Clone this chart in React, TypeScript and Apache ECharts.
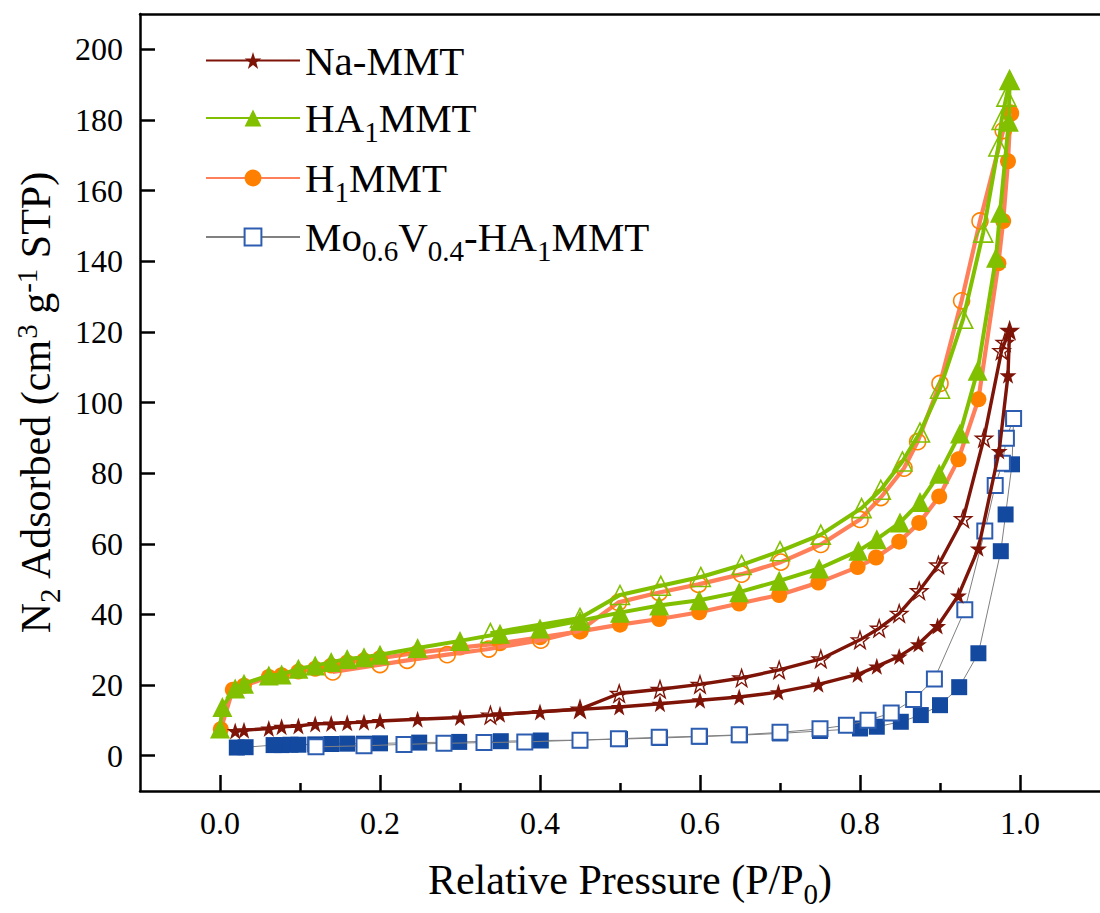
import React, { useEffect, useRef } from "react";
import * as echarts from "echarts";

// ---- axis ticks ----
const xTicks = [0, 0.2, 0.4, 0.6, 0.8, 1.0];
const xMinorTicks = [0.1, 0.3, 0.5, 0.7, 0.9];
const yTicks = [0, 20, 40, 60, 80, 100, 120, 140, 160, 180, 200];

// ---- Na-MMT ----
const naAdsP = [0.019, 0.03, 0.061, 0.077, 0.098, 0.119, 0.139, 0.159, 0.18, 0.2, 0.247, 0.3, 0.35, 0.4, 0.45, 0.499, 0.55, 0.6, 0.649, 0.698, 0.748, 0.797, 0.821, 0.849, 0.873, 0.897, 0.923, 0.948, 0.974, 0.985, 0.987];
const naAdsV = [7.0, 7.2, 7.7, 8.2, 8.4, 9.0, 9.1, 9.3, 9.5, 9.8, 10.3, 10.8, 11.7, 12.4, 13.1, 13.8, 14.7, 15.7, 16.6, 18.0, 20.2, 23.0, 25.3, 28.1, 31.6, 36.7, 45.4, 58.7, 86.3, 107.7, 120.4];
const naDesP = [0.987, 0.981, 0.977, 0.955, 0.929, 0.898, 0.874, 0.849, 0.824, 0.8, 0.751, 0.699, 0.652, 0.6, 0.55, 0.499, 0.45, 0.338];
const naDesV = [120.4, 117.0, 114.7, 89.9, 67.1, 54.0, 46.7, 40.3, 36.1, 32.8, 27.4, 24.3, 22.0, 20.2, 18.8, 17.6, 13.2, 11.5];

// ---- HA1MMT ----
const haAdsP = [0.0, 0.003, 0.019, 0.03, 0.061, 0.077, 0.098, 0.119, 0.139, 0.159, 0.18, 0.2, 0.247, 0.3, 0.35, 0.4, 0.45, 0.5, 0.549, 0.599, 0.649, 0.699, 0.749, 0.798, 0.821, 0.85, 0.875, 0.899, 0.925, 0.947, 0.97, 0.975, 0.986, 0.987];
const haAdsV = [7.7, 13.8, 19.0, 20.4, 22.7, 23.0, 24.6, 25.5, 26.5, 27.4, 27.9, 28.6, 30.5, 32.5, 34.5, 36.0, 38.2, 40.5, 42.5, 44.0, 46.3, 49.5, 53.0, 58.0, 61.3, 66.0, 71.8, 79.8, 91.2, 109.0, 141.0, 153.7, 179.5, 191.3];
const haDesP = [0.987, 0.983, 0.977, 0.973, 0.954, 0.929, 0.9, 0.875, 0.853, 0.826, 0.802, 0.751, 0.7, 0.652, 0.601, 0.551, 0.5, 0.45, 0.338];
const haDesV = [191.3, 186.6, 180.0, 172.5, 148.1, 123.7, 103.9, 91.5, 83.3, 75.3, 70.1, 62.6, 57.9, 54.0, 50.6, 48.1, 45.5, 39.0, 34.7];

// ---- H1MMT ----
const hAdsP = [0.001, 0.016, 0.03, 0.061, 0.077, 0.098, 0.119, 0.139, 0.159, 0.18, 0.2, 0.247, 0.3, 0.35, 0.4, 0.45, 0.5, 0.549, 0.599, 0.649, 0.699, 0.748, 0.797, 0.82, 0.849, 0.874, 0.899, 0.923, 0.948, 0.973, 0.979, 0.985, 0.988];
const hAdsV = [7.5, 18.7, 19.8, 22.3, 22.8, 23.8, 24.6, 25.5, 26.4, 27.0, 27.6, 29.2, 30.6, 31.8, 33.5, 35.2, 37.1, 38.7, 40.6, 43.1, 45.5, 49.0, 53.4, 56.1, 60.6, 65.9, 73.4, 83.9, 100.9, 139.4, 151.4, 168.3, 181.9];
const hDesP = [0.988, 0.979, 0.95, 0.927, 0.9, 0.872, 0.855, 0.826, 0.8, 0.751, 0.701, 0.652, 0.598, 0.549, 0.498, 0.45, 0.401, 0.336, 0.284, 0.234, 0.2, 0.141];
const hDesV = [181.9, 177.0, 151.4, 128.8, 105.4, 88.9, 81.4, 73.1, 66.9, 59.8, 54.8, 51.4, 48.5, 46.2, 43.4, 35.4, 32.7, 30.2, 28.6, 27.0, 25.8, 23.7];

// ---- Mo0.6V0.4-HA1MMT ----
const moAdsP = [0.021, 0.032, 0.067, 0.077, 0.088, 0.098, 0.119, 0.139, 0.159, 0.18, 0.2, 0.249, 0.299, 0.351, 0.401, 0.45, 0.5, 0.55, 0.6, 0.65, 0.7, 0.75, 0.8, 0.821, 0.851, 0.876, 0.9, 0.924, 0.948, 0.976, 0.982, 0.99, 0.992];
const moAdsV = [2.3, 2.4, 3.0, 3.0, 3.1, 3.1, 3.2, 3.3, 3.4, 3.4, 3.5, 3.7, 3.9, 4.1, 4.3, 4.4, 4.7, 5.0, 5.4, 5.8, 6.3, 7.0, 7.7, 8.2, 9.6, 11.5, 14.3, 19.4, 29.0, 57.9, 68.3, 82.5, 95.5];
const moDesP = [0.992, 0.983, 0.978, 0.969, 0.956, 0.931, 0.893, 0.867, 0.839, 0.81, 0.783, 0.75, 0.7, 0.649, 0.599, 0.549, 0.498, 0.45, 0.381, 0.33, 0.28, 0.23, 0.18, 0.12];
const moDesV = [95.5, 89.9, 82.8, 76.5, 63.6, 41.3, 21.7, 15.9, 12.1, 10.0, 8.6, 7.6, 6.6, 5.9, 5.5, 5.2, 4.8, 4.4, 3.9, 3.7, 3.5, 3.2, 2.8, 2.5];

const FONT = "Liberation Serif, Times New Roman, serif";
const STAR = "path://M50,0 L61.8,35.1 L98.1,35.1 L68.8,56.8 L79.4,91.1 L50,70 L20.6,91.1 L31.2,56.8 L1.9,35.1 L38.2,35.1 Z";

const C_NA = "#7D1407";
const C_GREEN = "#80C000";
const C_ORANGE = "#FF8000";
const C_SALMON = "#FF7F5A";
const C_BLUE = "#1449A0";
const C_BLUE_EDGE = "#2C5DB0";
const C_GRAY = "#808080";

const zip = (p: number[], v: number[]) => p.map((x, i) => [x, v[i]]);

const makeRich = (size: number) => ({
  n: { fontFamily: FONT, fontSize: size, lineHeight: size + 4, color: "#000" },
  s: { fontFamily: FONT, fontSize: Math.round(size * 0.7), lineHeight: size + 4, color: "#000", padding: [Math.round(size * 0.65), 0, 0, 0] },
  p: { fontFamily: FONT, fontSize: Math.round(size * 0.7), lineHeight: size + 4, color: "#000", padding: [0, 0, Math.round(size * 0.45), 0] },
});
const legendRich = makeRich(41);
const titleRich = makeRich(42);

const legendLabels: Record<string, string> = {
  "Na-MMT": "{n|Na-MMT}",
  "HA1MMT": "{n|HA}{s|1}{n|MMT}",
  "H1MMT": "{n|H}{s|1}{n|MMT}",
  "Mo0.6V0.4-HA1MMT": "{n|Mo}{s|0.6}{n|V}{s|0.4}{n|-HA}{s|1}{n|MMT}",
};
const legendOrder = ["Na-MMT", "HA1MMT", "H1MMT", "Mo0.6V0.4-HA1MMT"];
const legendTops = [40, 90, 150, 209];

export default function App() {
  const ref = useRef<HTMLDivElement>(null);
  useEffect(() => {
    if (!ref.current) return;
    const chart = echarts.init(ref.current, undefined, { renderer: "svg" });

    const baseLine = (name: string, data: number[][], color: string, width: number, symbol: string, size: number, item: any, z: number) => ({
      name,
      type: "line",
      data,
      symbol,
      symbolSize: size,
      showSymbol: true,
      lineStyle: { color, width },
      itemStyle: item,
      z,
      emphasis: { disabled: true },
    });

    const series = [
      baseLine("Mo0.6V0.4-HA1MMT adsorption", zip(moAdsP, moAdsV), C_GRAY, 1, "rect", 16, { color: C_BLUE }, 2),
      baseLine("Mo0.6V0.4-HA1MMT", zip(moDesP, moDesV), C_GRAY, 1, "rect", 15, { color: "#ffffff", borderColor: C_BLUE_EDGE, borderWidth: 2 }, 3),
      baseLine("H1MMT", zip(hAdsP, hAdsV), C_SALMON, 4.2, "circle", 16, { color: C_ORANGE }, 4),
      baseLine("H1MMT desorption", zip(hDesP, hDesV), C_SALMON, 4.2, "circle", 16, { color: "rgba(255,255,255,0)", borderColor: C_ORANGE, borderWidth: 1.6 }, 5),
      baseLine("Na-MMT", zip(naAdsP, naAdsV), C_NA, 3.4, STAR, 17, { color: C_NA }, 6),
      baseLine("Na-MMT desorption", zip(naDesP, naDesV), C_NA, 3.4, STAR, 17, { color: "rgba(255,255,255,0)", borderColor: C_NA, borderWidth: 1.4 }, 7),
      baseLine("HA1MMT", zip(haAdsP, haAdsV), C_GREEN, 4, "triangle", 20, { color: C_GREEN }, 8),
      baseLine("HA1MMT desorption", zip(haDesP, haDesV), C_GREEN, 4, "triangle", 19, { color: "rgba(255,255,255,0)", borderColor: C_GREEN, borderWidth: 1.6 }, 9),
    ];

    const legends = legendOrder.map((name, i) => ({
      data: [name],
      orient: "vertical",
      left: 205,
      top: legendTops[i],
      padding: 0,
      itemWidth: 94,
      itemHeight: 21,
      selectedMode: false,
      formatter: (n: string) => legendLabels[n] ?? n,
      textStyle: { fontFamily: FONT, fontSize: 41, color: "#000", rich: legendRich },
    }));

    const axisLineStyle = { color: "#000", width: 2.5 };

    chart.setOption({
      animation: false,
      backgroundColor: "#ffffff",
      textStyle: { fontFamily: FONT },
      grid: { left: 140, right: -8, top: 14, bottom: 117.5, containLabel: false },
      legend: legends,
      xAxis: [
        {
          type: "value",
          min: -0.1,
          max: 1.1,
          position: "bottom",
          axisLine: { show: true, onZero: false, lineStyle: axisLineStyle },
          axisTick: { show: true, inside: true, length: 16, customValues: xTicks, lineStyle: { color: "#000", width: 2.5 } },
          axisLabel: {
            show: true,
            customValues: xTicks,
            formatter: (v: number) => v.toFixed(1),
            fontFamily: FONT,
            fontSize: 32,
            color: "#000",
            margin: 16,
          },
          splitLine: { show: false },
          name: "{n|Relative Pressure (P/P}{s|0}{n|)}",
          nameLocation: "middle",
          nameGap: 66,
          nameTextStyle: { fontFamily: FONT, fontSize: 42, color: "#000", rich: titleRich, padding: [0, 0, 0, 20] },
        },
        {
          type: "value",
          min: -0.1,
          max: 1.1,
          position: "bottom",
          axisLine: { show: false, onZero: false },
          axisTick: { show: true, inside: true, length: 8, customValues: xMinorTicks, lineStyle: { color: "#000", width: 2.5 } },
          axisLabel: { show: false },
          splitLine: { show: false },
        },
        {
          type: "value",
          min: -0.1,
          max: 1.1,
          position: "top",
          axisLine: { show: true, onZero: false, lineStyle: axisLineStyle },
          axisTick: { show: false },
          axisLabel: { show: false },
          splitLine: { show: false },
        },
      ],
      yAxis: [
        {
          type: "value",
          min: -10,
          max: 210,
          position: "left",
          axisLine: { show: true, onZero: false, lineStyle: axisLineStyle },
          axisTick: { show: true, inside: true, length: 15, customValues: yTicks, lineStyle: { color: "#000", width: 2.5 } },
          axisLabel: {
            show: true,
            customValues: yTicks,
            fontFamily: FONT,
            fontSize: 32,
            color: "#000",
            margin: 17,
          },
          splitLine: { show: false },
          name: "{n|N}{s|2}{n| Adsorbed (cm}{p|3}{n| g}{p|-1}{n| STP)}",
          nameLocation: "middle",
          nameGap: 76,
          nameTextStyle: { fontFamily: FONT, fontSize: 42, color: "#000", rich: titleRich },
        },
      ],
      series,
    });

    return () => chart.dispose();
  }, []);

  return <div ref={ref} style={{ position: "absolute", left: 0, top: 0, width: 1100, height: 913 }} />;
}
